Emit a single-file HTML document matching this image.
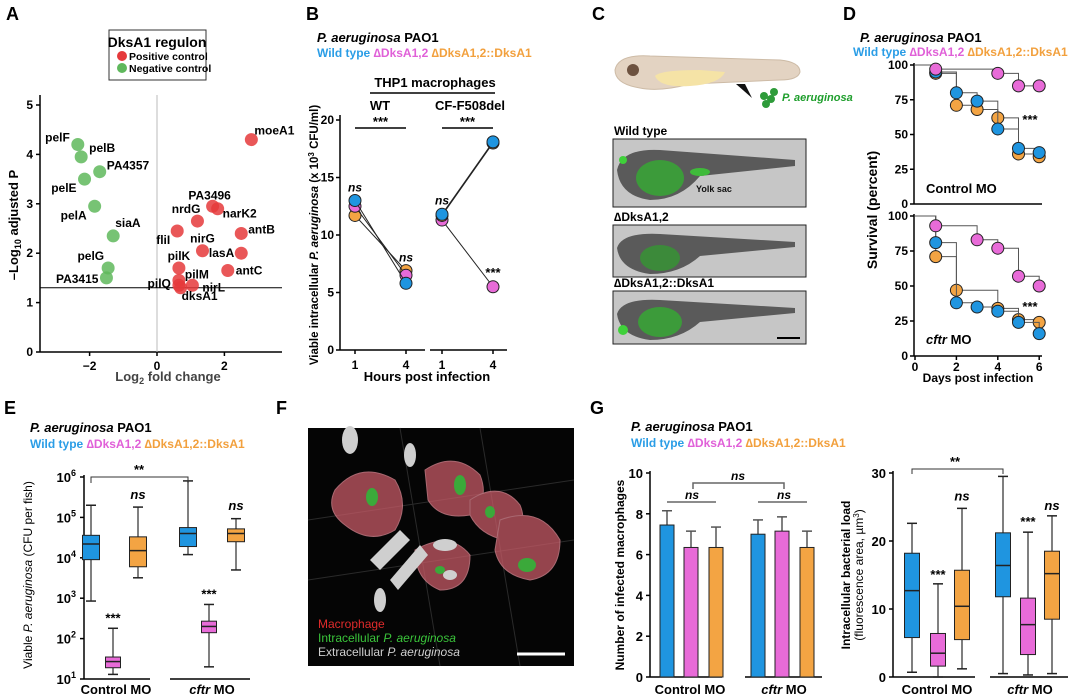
<!DOCTYPE html>
<html><head><meta charset="utf-8"><style>
body{margin:0;background:#fff}
svg{display:block;font-family:"Liberation Sans Narrow","Liberation Sans",sans-serif;font-weight:bold}
</style></head><body>
<svg id="fig" xmlns="http://www.w3.org/2000/svg" width="1080" height="699" viewBox="0 0 1080 699">
<rect width="1080" height="699" fill="#fff"/>
<g font-size="18" font-family="Liberation Sans,sans-serif">
<text x="6" y="20">A</text>
<text x="306" y="20">B</text>
<text x="592" y="20">C</text>
<text x="843" y="20">D</text>
<text x="4" y="414">E</text>
<text x="276" y="414">F</text>
<text x="590" y="414">G</text>
</g>
<!-- Panel A legend -->
<g>
<rect x="109" y="30" width="97" height="50" fill="#fff" stroke="#333"/>
<text x="157" y="47" font-size="14" text-anchor="middle">DksA1 regulon</text>
<circle cx="122" cy="56" r="5" fill="#e5393b"/>
<text x="129" y="60" font-size="10.5">Positive control</text>
<circle cx="122" cy="68" r="5" fill="#5fb85c"/>
<text x="129" y="72" font-size="10.5">Negative control</text>
</g>
<text transform="translate(18,225) rotate(-90)" text-anchor="middle" font-size="13">–Log<tspan font-size="9" dy="3">10</tspan><tspan dy="-3"> adjusted P</tspan></text>
<text x="168" y="381" text-anchor="middle" font-size="13" fill="#444">Log<tspan font-size="9" dy="3">2</tspan><tspan dy="-3"> fold change</tspan></text>

<!-- Panel B headers -->
<text x="317" y="42" font-size="13"><tspan font-style="italic">P. aeruginosa</tspan> PAO1</text>
<text x="317" y="57" font-size="12"><tspan fill="#2a9de6">Wild type </tspan><tspan fill="#e060d8">∆DksA1,2 </tspan><tspan fill="#f2a03d">∆DksA1,2::DksA1</tspan></text>
<text x="435" y="87" text-anchor="middle" font-size="13">THP1 macrophages</text>
<line x1="370" y1="93" x2="495" y2="93" stroke="#000" stroke-width="1.5"/>
<text x="380" y="110" text-anchor="middle" font-size="13">WT</text>
<text x="470" y="110" text-anchor="middle" font-size="13">CF-F508del</text>
<text transform="translate(318,235) rotate(-90)" text-anchor="middle" font-size="11.5">Viable intracellular <tspan font-style="italic">P. aeruginosa</tspan> (x 10<tspan font-size="8" dy="-4">3</tspan><tspan dy="4"> CFU/ml)</tspan></text>
<text x="427" y="381" text-anchor="middle" font-size="13">Hours post infection</text>

<!-- Panel C -->
<g>
<path d="M615 70 Q618 54 650 56 L780 60 Q800 62 800 72 Q798 80 780 80 L690 84 Q660 92 640 88 Q615 84 615 70Z" fill="#e3d3c2" stroke="#cdbba6"/>
<path d="M655 76 Q660 70 700 70 L725 72 Q720 84 690 86 Q660 88 655 76Z" fill="#f5e3a6"/>
<circle cx="633" cy="70" r="6" fill="#6d5240"/>
<path d="M736 84 L752 98 L745 84Z" fill="#111"/>
<g fill="#2e9b3a"><circle cx="764" cy="96" r="4"/><circle cx="771" cy="99" r="4"/><circle cx="766" cy="104" r="4"/><circle cx="774" cy="92" r="4"/></g>
<text x="782" y="101" font-size="11" font-style="italic" fill="#1e9e2c">P. aeruginosa</text>
<text x="614" y="135" font-size="12">Wild type</text>
<rect x="613" y="139" width="193" height="68" fill="#c6c6c6" stroke="#222"/>
<text x="614" y="221" font-size="12">∆DksA1,2</text>
<rect x="613" y="225" width="193" height="52" fill="#c6c6c6" stroke="#222"/>
<text x="614" y="287" font-size="12">∆DksA1,2::DksA1</text>
<rect x="613" y="291" width="193" height="53" fill="#c6c6c6" stroke="#222"/>
<g>
<path d="M617 170 Q622 148 660 150 L795 160 L795 166 L700 176 Q680 200 650 200 Q620 196 617 170Z" fill="#5a5a5a"/>
<ellipse cx="660" cy="178" rx="24" ry="18" fill="#3c9b3a"/>
<ellipse cx="700" cy="172" rx="10" ry="4" fill="#3fbb3a"/>
<path d="M617 248 Q622 232 660 234 L795 242 L795 247 L700 256 Q680 274 650 274 Q620 270 617 248Z" fill="#5a5a5a"/>
<ellipse cx="660" cy="258" rx="20" ry="13" fill="#3c8a3a"/>
<path d="M617 314 Q622 298 660 300 L795 308 L795 313 L700 322 Q680 340 650 340 Q620 336 617 314Z" fill="#5a5a5a"/>
<ellipse cx="660" cy="322" rx="22" ry="15" fill="#3c9b3a"/>
<circle cx="623" cy="160" r="4" fill="#3fd13a"/><circle cx="623" cy="330" r="5" fill="#3fd13a"/>
</g>
<text x="696" y="192" font-size="9" fill="#111">Yolk sac</text>
<line x1="777" y1="338" x2="800" y2="338" stroke="#000" stroke-width="2"/>
</g>

<!-- Panel D headers -->
<text x="860" y="42" font-size="13"><tspan font-style="italic">P. aeruginosa</tspan> PAO1</text>
<text x="853" y="56" font-size="12"><tspan fill="#2a9de6">Wild type </tspan><tspan fill="#e060d8">∆DksA1,2 </tspan><tspan fill="#f2a03d">∆DksA1,2::DksA1</tspan></text>
<text transform="translate(877,210) rotate(-90)" text-anchor="middle" font-size="14">Survival (percent)</text>
<text x="978" y="382" text-anchor="middle" font-size="12">Days post infection</text>
<text x="926" y="193" font-size="13">Control MO</text>
<text x="926" y="344" font-size="13"><tspan font-style="italic">cftr</tspan> MO</text>
<text x="1030" y="124" text-anchor="middle" font-size="13">***</text>
<text x="1030" y="311" text-anchor="middle" font-size="13">***</text>

<!-- Panel E headers -->
<text x="30" y="432" font-size="13"><tspan font-style="italic">P. aeruginosa</tspan> PAO1</text>
<text x="30" y="448" font-size="12"><tspan fill="#2a9de6">Wild type </tspan><tspan fill="#e060d8">∆DksA1,2 </tspan><tspan fill="#f2a03d">∆DksA1,2::DksA1</tspan></text>
<text transform="translate(32,575) rotate(-90)" text-anchor="middle" font-size="12" font-weight="normal">Viable <tspan font-style="italic">P. aeruginosa</tspan> (CFU per fish)</text>
<text x="116" y="694" text-anchor="middle" font-size="13">Control MO</text>
<text x="212" y="694" text-anchor="middle" font-size="13"><tspan font-style="italic">cftr</tspan> MO</text>

<!-- Panel F -->
<g>
<rect x="308" y="428" width="266" height="238" fill="#050505"/>
<g stroke="#2a2a2a" stroke-width="1"><line x1="308" y1="520" x2="574" y2="480"/><line x1="308" y1="580" x2="574" y2="540"/><line x1="400" y1="428" x2="440" y2="666"/><line x1="480" y1="428" x2="520" y2="666"/></g>
<g fill="#c65a66" opacity=".75" stroke="#e08a95">
<path d="M335 490 Q360 460 395 480 Q410 505 395 530 Q370 545 345 525 Q325 510 335 490Z"/>
<path d="M425 470 Q455 450 480 475 Q490 500 470 515 Q440 520 428 500Z"/>
<path d="M470 500 Q500 480 520 505 Q530 530 505 540 Q480 535 470 515Z"/>
<path d="M500 520 Q540 505 560 540 Q560 575 530 580 Q500 575 495 550Z"/>
<path d="M415 550 Q450 530 470 555 Q470 590 440 590 Q415 580 415 550Z"/>
</g>
<g fill="#cfcfcf"><ellipse cx="350" cy="440" rx="8" ry="14"/><ellipse cx="410" cy="455" rx="6" ry="12"/><path d="M370 560 L400 530 L410 540 L380 570Z"/><path d="M390 580 L420 545 L428 555 L398 590Z"/><ellipse cx="445" cy="545" rx="12" ry="6"/><ellipse cx="380" cy="600" rx="6" ry="12"/><ellipse cx="450" cy="575" rx="7" ry="5"/></g>
<g fill="#3ba93a"><ellipse cx="372" cy="497" rx="6" ry="9"/><ellipse cx="460" cy="485" rx="6" ry="10"/><ellipse cx="490" cy="512" rx="5" ry="6"/><ellipse cx="527" cy="565" rx="9" ry="7"/><ellipse cx="440" cy="570" rx="5" ry="4"/></g>
<line x1="517" y1="654" x2="565" y2="654" stroke="#fff" stroke-width="3"/>
</g>
<text x="318" y="628" font-size="12" font-weight="normal" fill="#e02b2b">Macrophage</text>
<text x="318" y="642" font-size="12" font-weight="normal" fill="#3ac43a">Intracellular <tspan font-style="italic">P. aeruginosa</tspan></text>
<text x="318" y="656" font-size="12" font-weight="normal" fill="#cfcfcf">Extracellular <tspan font-style="italic">P. aeruginosa</tspan></text>

<!-- Panel G headers -->
<text x="631" y="431" font-size="13"><tspan font-style="italic">P. aeruginosa</tspan> PAO1</text>
<text x="631" y="447" font-size="12"><tspan fill="#2a9de6">Wild type </tspan><tspan fill="#e060d8">∆DksA1,2 </tspan><tspan fill="#f2a03d">∆DksA1,2::DksA1</tspan></text>
<text transform="translate(624,575) rotate(-90)" text-anchor="middle" font-size="12">Number of infected macrophages</text>
<text transform="translate(850,575) rotate(-90)" text-anchor="middle" font-size="12">Intracellular bacterial load</text>
<text transform="translate(863,575) rotate(-90)" text-anchor="middle" font-size="12" font-weight="normal">(fluorescence area, µm<tspan font-size="8" dy="-4">3</tspan><tspan dy="4">)</tspan></text>
<text x="690" y="694" text-anchor="middle" font-size="13">Control MO</text>
<text x="784" y="694" text-anchor="middle" font-size="13"><tspan font-style="italic">cftr</tspan> MO</text>
<text x="937" y="694" text-anchor="middle" font-size="13">Control MO</text>
<text x="1030" y="694" text-anchor="middle" font-size="13"><tspan font-style="italic">cftr</tspan> MO</text>
</svg>
<script>
// ---------- Data ----------
const volcanoGenes = ["pelF","pelB","PA4357","pelE","pelA","siaA","pelG","PA3415","moeA1","PA3496","narK2","nrdG","fliI","antB","nirG","lasA","pilK","antC","pilM","pilQ","nirL","dksA1"];
const volcanoFC = [-2.35,-2.25,-1.7,-2.15,-1.85,-1.3,-1.45,-1.5,2.8,1.65,1.8,1.2,0.6,2.5,1.35,2.5,0.65,2.1,0.65,0.65,1.05,0.7];
const volcanoP = [4.2,3.95,3.65,3.5,2.95,2.35,1.7,1.5,4.3,2.95,2.9,2.65,2.45,2.4,2.05,2.0,1.7,1.65,1.45,1.35,1.35,1.3];
const volcanoGroup = ["neg","neg","neg","neg","neg","neg","neg","neg","pos","pos","pos","pos","pos","pos","pos","pos","pos","pos","pos","pos","pos","pos"];
const volcanoYTicks = [0,1,2,3,4,5];
const volcanoXTicks = [-2,0,2];
const volcanoThreshold = 1.3;

const bHours = [1,4];
const bWT_wt = [13.0,5.8], bWT_dks = [12.5,6.5], bWT_comp = [11.7,6.9];
const bCF_wt = [11.8,18.1], bCF_dks = [11.3,5.5], bCF_comp = [11.7,18.0];
const bYTicks = [0,5,10,15,20];

const dDays = [0,1,2,3,4,5,6];
const dCtrl_wt = [100,95,80,74,54,40,37];
const dCtrl_dks = [100,97,97,97,94,85,85];
const dCtrl_comp = [100,94,71,68,62,36,34];
const dCftr_wt = [100,81,38,35,32,24,16];
const dCftr_dks = [100,93,93,83,77,57,50];
const dCftr_comp = [100,71,47,47,34,26,24];
const dYTicks = [0,25,50,75,100];
const dXTicks = [0,2,4,6];

// box stats: [min,q1,median,q3,max] in CFU
const eCtrl_wt = [850,9000,22000,36000,200000];
const eCtrl_dks = [13,19,27,35,180];
const eCtrl_comp = [3200,6000,15000,33000,180000];
const eCftr_wt = [12000,19000,40000,56000,800000];
const eCftr_dks = [20,140,200,270,700];
const eCftr_comp = [5000,25000,40000,52000,93000];
const eYTicks = [1,2,3,4,5,6];

const gBarCtrl = [7.45,6.35,6.35], gErrCtrl = [0.7,0.8,1.0];
const gBarCftr = [7.0,7.15,6.35], gErrCftr = [0.7,0.7,0.8];
const gBarTicks = [0,2,4,6,8,10];
const gBoxCtrl_wt = [0.7,5.8,12.7,18.2,22.6];
const gBoxCtrl_dks = [0,1.6,3.5,6.4,13.7];
const gBoxCtrl_comp = [1.2,5.5,10.4,15.7,24.8];
const gBoxCftr_wt = [0.5,11.8,16.4,21.2,29.5];
const gBoxCftr_dks = [0.3,3.3,7.7,11.6,21.3];
const gBoxCftr_comp = [0.5,8.5,15.2,18.5,23.7];
const gBoxTicks = [0,10,20,30];

// ---------- Helpers ----------
const svg = document.getElementById('fig');
const NS = 'http://www.w3.org/2000/svg';
const BLUE='#1f95e0', PINK='#e86bd8', ORANGE='#f3a443';
function add(tag, a, name){
  const e = document.createElementNS(NS, tag);
  for (const k in a) e.setAttribute(k, a[k]);
  
  
  svg.appendChild(e);
  return e;
}
function txt(x,y,s,name,size,anchor,extra){
  const e = add('text', Object.assign({x:x,y:y,'font-size':size||12,'text-anchor':anchor||'middle'}, extra||{}), name);
  e.textContent = s;
  return e;
}
function line(x1,y1,x2,y2,name,stroke,w){
  return add('line',{x1:x1,y1:y1,x2:x2,y2:y2,stroke:stroke||'#000','stroke-width':w||1.5},name);
}

// ---------- Panel A ----------
const ax = v => 157 + v*33.7;
const ay = v => 352 - v*49.4;
line(40,95,40,352,'y-axis-a');
line(40,352,282,352,'x-axis-a');
line(ax(0),95,ax(0),352,'zero-line-a','#bbb',1);
line(40,ay(volcanoThreshold),282,ay(volcanoThreshold),'threshold-line-a','#000',1);
volcanoYTicks.forEach(t=>{ line(36,ay(t),40,ay(t),'y-tick-a'); txt(33,ay(t)+4,String(t),'y-tick-label-a',12,'end'); });
volcanoXTicks.forEach(t=>{ line(ax(t),352,ax(t),356,'x-tick-a'); txt(ax(t),370,t<0?'−'+Math.abs(t):String(t),'x-tick-label-a',12); });
const labAnchor = ["end","start","start","end","end","start","end","end","start","middle","start","end","end","start","middle","end","middle","start","start","end","start","start"];
const labDx = [-8,8,7,-8,-8,2,-4,-8,3,-3,5,3,-7,7,0,-7,0,8,6,-8,10,1];
const labDy = [-3,-5,-2,13,13,-9,-8,5,-5,-7,9,-8,13,0,-8,4,-8,4,-2,2,6,12];
volcanoGenes.forEach((g,i)=>{
  const cx = ax(volcanoFC[i]), cy = ay(volcanoP[i]);
  const c = add('circle',{cx:cx,cy:cy,r:6.5,fill:volcanoGroup[i]==='pos'?'#e5393b':'#5fb85c',opacity:0.85},'volcano-point');
  
  txt(cx+labDx[i],cy+labDy[i],g,'gene-label',12,labAnchor[i]);
});

// ---------- Panel B ----------
const by = v => 350 - v*11.5;
const bx1 = h => 355 + (h-1)*(51/3);
const bx2 = h => 442 + (h-1)*(51/3);
line(340,115,340,350,'y-axis-b');
line(340,350,425,350,'x-axis-b-wt');
line(430,350,507,350,'x-axis-b-cf');
bYTicks.forEach(t=>{ line(336,by(t),340,by(t),'y-tick-b'); txt(334,by(t)+4,String(t),'y-tick-label-b',12,'end'); });
bHours.forEach(h=>{ txt(bx1(h),369,String(h),'x-tick-label-b',12); txt(bx2(h),369,String(h),'x-tick-label-b',12); line(bx1(h),350,bx1(h),354,'x-tick-b'); line(bx2(h),350,bx2(h),354,'x-tick-b'); });
function bSeries(xf, vals, color, name){
  add('polyline',{points:bHours.map((h,i)=>xf(h)+','+by(vals[i])).join(' '),fill:'none',stroke:'#222','stroke-width':1},name+'-line');
  bHours.forEach((h,i)=>add('circle',{cx:xf(h),cy:by(vals[i]),r:6,fill:color,stroke:'#222','stroke-width':1},name+'-point'));
}
bSeries(bx1,bWT_comp,ORANGE,'b-wt-complemented');
bSeries(bx1,bWT_dks,PINK,'b-wt-dksa');
bSeries(bx1,bWT_wt,BLUE,'b-wt-wildtype');
bSeries(bx2,bCF_dks,PINK,'b-cf-dksa');
bSeries(bx2,bCF_comp,ORANGE,'b-cf-complemented');
bSeries(bx2,bCF_wt,BLUE,'b-cf-wildtype');
line(bx1(1),128,bx1(4),128,'sig-bar-b-wt','#000',1.5);
line(bx2(1),128,bx2(4),128,'sig-bar-b-cf','#000',1.5);
txt((bx1(1)+bx1(4))/2,126,'***','sig-b-wt',13);
txt((bx2(1)+bx2(4))/2,126,'***','sig-b-cf',13);
txt(bx1(1),by(bWT_wt[0])-9,'ns','ns-b-wt-1',12,'middle',{'font-style':'italic'});
txt(bx1(4),by(bWT_comp[1])-9,'ns','ns-b-wt-4',12,'middle',{'font-style':'italic'});
txt(bx2(1),by(bCF_wt[0])-10,'ns','ns-b-cf-1',12,'middle',{'font-style':'italic'});
txt(bx2(4),by(bCF_dks[1])-10,'***','sig-b-cf-4',13);

// ---------- Panel D ----------
const dx = d => 915 + d*20.7;
const dyTop = v => 204 - v*1.39;
const dyBot = v => 356 - v*1.4;
function dAxes(yf, ticks, name){
  line(914,yf(100)-2,914,yf(0),name+'-y-axis');
  line(914,yf(0),1042,yf(0),name+'-x-axis');
  ticks.forEach(t=>{ line(910,yf(t),914,yf(t),name+'-y-tick'); txt(908,yf(t)+4,String(t),name+'-y-tick-label',12,'end'); });
}
dAxes(dyTop,dYTicks,'d-top');
dAxes(dyBot,dYTicks,'d-bottom');
dXTicks.forEach(t=>{ line(dx(t),356,dx(t),360,'d-x-tick'); txt(dx(t),371,String(t),'d-x-tick-label',12); });
function dSurv(yf, vals, color, name){
  let pts = [];
  for(let i=0;i<dDays.length;i++){
    if(i>0) pts.push(dx(dDays[i])+','+yf(vals[i-1]));
    pts.push(dx(dDays[i])+','+yf(vals[i]));
  }
  add('polyline',{points:pts.join(' '),fill:'none',stroke:'#555','stroke-width':1},name+'-step');
  for(let i=1;i<dDays.length;i++){
    if(vals[i]!==vals[i-1] || i===dDays.length-1 || i===1)
      add('circle',{cx:dx(dDays[i]),cy:yf(vals[i]),r:6,fill:color,stroke:'#222','stroke-width':1},name+'-point');
  }
}
dSurv(dyTop,dCtrl_comp,ORANGE,'d-ctrl-complemented');
dSurv(dyTop,dCtrl_wt,BLUE,'d-ctrl-wildtype');
dSurv(dyTop,dCtrl_dks,PINK,'d-ctrl-dksa');
dSurv(dyBot,dCftr_comp,ORANGE,'d-cftr-complemented');
dSurv(dyBot,dCftr_wt,BLUE,'d-cftr-wildtype');
dSurv(dyBot,dCftr_dks,PINK,'d-cftr-dksa');

// ---------- Panel E ----------
const ey = v => 679 - (Math.log10(v)-1)*40.4;
line(84,475,84,679,'y-axis-e');
line(84,679,150,679,'x-axis-e-control');
line(170,679,250,679,'x-axis-e-cftr');
eYTicks.forEach(p=>{
  const y = 679-(p-1)*40.4;
  line(80,y,84,y,'y-tick-e');
  const t = txt(76,y+5,'10','y-tick-label-e',13,'end');
  const s = document.createElementNS(NS,'tspan'); s.setAttribute('dy','-6'); s.setAttribute('font-size','9'); s.textContent=String(p); t.appendChild(s);
});
function boxplot(cx, st, yf, color, name, w){
  line(cx,yf(st[0]),cx,yf(st[4]),name+'-whisker','#555',1.5);
  line(cx-5,yf(st[0]),cx+5,yf(st[0]),name+'-whisker-min','#222',1.5);
  line(cx-5,yf(st[4]),cx+5,yf(st[4]),name+'-whisker-max','#222',1.5);
  add('rect',{x:cx-w/2,y:yf(st[3]),width:w,height:yf(st[1])-yf(st[3]),fill:color,stroke:'#222','stroke-width':1},name+'-box');
  line(cx-w/2,yf(st[2]),cx+w/2,yf(st[2]),name+'-median','#222',1.5);
}
boxplot(91,eCtrl_wt,ey,BLUE,'e-ctrl-wildtype',17);
boxplot(113,eCtrl_dks,ey,PINK,'e-ctrl-dksa',15);
boxplot(138,eCtrl_comp,ey,ORANGE,'e-ctrl-complemented',17);
boxplot(188,eCftr_wt,ey,BLUE,'e-cftr-wildtype',17);
boxplot(209,eCftr_dks,ey,PINK,'e-cftr-dksa',15);
boxplot(236,eCftr_comp,ey,ORANGE,'e-cftr-complemented',17);
add('polyline',{points:'91,483 91,477 188,477 188,483',fill:'none',stroke:'#333','stroke-width':1},'sig-bracket-e');
txt(139,474,'**','sig-e-bracket',13);
txt(113,ey(eCtrl_dks[4])-6,'***','sig-e-ctrl-dksa',13);
txt(209,ey(eCftr_dks[4])-6,'***','sig-e-cftr-dksa',13);
txt(138,ey(eCtrl_comp[4])-8,'ns','ns-e-ctrl',13,'middle',{'font-style':'italic'});
txt(236,ey(eCftr_wt[4])+29,'ns','ns-e-cftr',13,'middle',{'font-style':'italic'});

// ---------- Panel G bars ----------
const gy = v => 677 - v*20.4;
line(650,471,650,677,'y-axis-g-left');
line(650,677,722,677,'x-axis-g-left-control');
line(745,677,822,677,'x-axis-g-left-cftr');
gBarTicks.forEach(t=>{ line(646,gy(t),650,gy(t),'y-tick-g-left'); txt(643,gy(t)+5,String(t),'y-tick-label-g-left',13,'end'); });
const colors = [BLUE,PINK,ORANGE];
function bars(centers, vals, errs, name){
  vals.forEach((v,i)=>{
    line(centers[i],gy(v),centers[i],gy(v+errs[i]),name+'-error','#555',1.5);
    line(centers[i]-5,gy(v+errs[i]),centers[i]+5,gy(v+errs[i]),name+'-error-cap','#555',1.5);
    add('rect',{x:centers[i]-7,y:gy(v),width:14,height:gy(0)-gy(v),fill:colors[i],stroke:'#222','stroke-width':1},name+'-bar');
  });
}
bars([667,691,716],gBarCtrl,gErrCtrl,'g-control');
bars([758,782,807],gBarCftr,gErrCftr,'g-cftr');
line(667,502,716,502,'ns-line-g-ctrl','#666',1.5);
line(758,502,807,502,'ns-line-g-cftr','#666',1.5);
add('polyline',{points:'693,489 693,483 784,483 784,489',fill:'none',stroke:'#666','stroke-width':1.5},'ns-bracket-g');
txt(692,499,'ns','ns-g-ctrl',12,'middle',{'font-style':'italic'});
txt(784,499,'ns','ns-g-cftr',12,'middle',{'font-style':'italic'});
txt(738,480,'ns','ns-g-between',12,'middle',{'font-style':'italic'});

// ---------- Panel G boxes ----------
const gy2 = v => 677 - v*6.8;
line(893,471,893,677,'y-axis-g-right');
line(893,677,975,677,'x-axis-g-right-control');
line(990,677,1068,677,'x-axis-g-right-cftr');
gBoxTicks.forEach(t=>{ line(889,gy2(t),893,gy2(t),'y-tick-g-right'); txt(886,gy2(t)+5,String(t),'y-tick-label-g-right',13,'end'); });
boxplot(912,gBoxCtrl_wt,gy2,BLUE,'g-ctrl-wildtype',15);
boxplot(938,gBoxCtrl_dks,gy2,PINK,'g-ctrl-dksa',15);
boxplot(962,gBoxCtrl_comp,gy2,ORANGE,'g-ctrl-complemented',15);
boxplot(1003,gBoxCftr_wt,gy2,BLUE,'g-cftr-wildtype',15);
boxplot(1028,gBoxCftr_dks,gy2,PINK,'g-cftr-dksa',15);
boxplot(1052,gBoxCftr_comp,gy2,ORANGE,'g-cftr-complemented',15);
add('polyline',{points:'912,474 912,469 1003,469 1003,474',fill:'none',stroke:'#333','stroke-width':1},'sig-bracket-g');
txt(955,466,'**','sig-g-bracket',13);
txt(938,gy2(gBoxCtrl_dks[4])-5,'***','sig-g-ctrl-dksa',13);
txt(1028,gy2(gBoxCftr_dks[4])-6,'***','sig-g-cftr-dksa',13);
txt(962,gy2(gBoxCtrl_comp[4])-8,'ns','ns-g-ctrl-comp',13,'middle',{'font-style':'italic'});
txt(1052,gy2(gBoxCftr_comp[4])-6,'ns','ns-g-cftr-comp',13,'middle',{'font-style':'italic'});
</script>
</body></html>
